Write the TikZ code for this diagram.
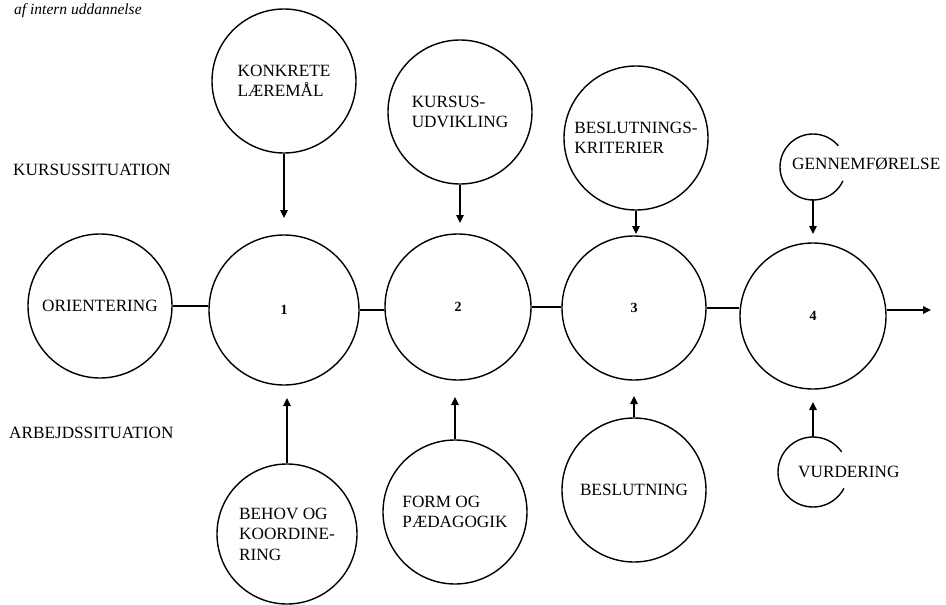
\documentclass[tikz,border=0pt]{standalone}
\usepackage{fontspec}
\setmainfont{Liberation Serif}
\usetikzlibrary{arrows.meta}
\begin{document}
\begin{tikzpicture}[x=1pt,y=-1pt,
  bub/.style={circle,draw,line width=1.4pt,inner sep=0pt,align=left,
    font=\fontsize{17.2}{20.5}\selectfont},
  lbl/.style={font=\fontsize{17.2}{20.5}\selectfont,inner sep=0pt},
  num/.style={font=\fontsize{14}{16}\selectfont\bfseries},
  link/.style={line width=1.4pt},
  arr/.style={line width=1.2pt,-{Triangle[length=8pt,width=7.5pt]}},
  halo/.style={line width=1.4pt}]
\useasboundingbox (0,0) rectangle (946,605);
% heading
\node[anchor=base west,inner sep=0pt,font=\fontsize{15.5}{17}\selectfont\itshape] (head) at (14,14) {af intern uddannelse};
% row labels
\node[lbl,anchor=west] (ks) at (13,170) {KURSUSSITUATION};
\node[lbl,anchor=west] (as) at (9,433) {ARBEJDSSITUATION};
% main row
\node[bub,minimum size=144pt] (o) at (100,306) {ORIENTERING};
\node[bub,minimum size=150pt,num] (c1) at (284,310) {1};
\node[bub,minimum size=146pt,num] (c2) at (458,307) {2};
\node[bub,minimum size=144pt,num] (c3) at (634,308) {3};
\node[bub,minimum size=146pt,num] (c4) at (813,316) {4};
% top row
\node[bub,minimum size=144pt] (k1) at (284,81) {KONKRETE\\LÆREMÅL};
\node[bub,minimum size=144pt] (k2) at (460,112) {KURSUS-\\UDVIKLING};
\node[bub,minimum size=144pt] (k3) at (636,138) {BESLUTNINGS-\\KRITERIER};
% bottom row
\node[bub,minimum size=140pt] (b1) at (287,534) {BEHOV OG\\KOORDINE-\\RING};
\node[bub,minimum size=144pt] (b2) at (455,512) {FORM OG\\PÆDAGOGIK};
\node[bub,minimum size=144pt] (b3) at (634,490) {BESLUTNING};
% open circles
\coordinate (gc) at (813,167);
\coordinate (vc) at (813,472);
\draw[halo] (gc) ++(-40:33) arc[start angle=-40,end angle=-335,radius=33];
\draw[halo] (vc) ++(-35:35) arc[start angle=-35,end angle=-332,radius=35];
\node[lbl,anchor=west] (g) at (792,164) {GENNEMFØRELSE};
\node[lbl,anchor=west] (v) at (798,472) {VURDERING};
\coordinate (gb) at (813,200);
\coordinate (vt) at (813,437);
% links
\draw[link] (o.east) -- (o.east -| c1.west);
\draw[link] (c1.east) -- (c1.east -| c2.west);
\draw[link] (c2.east) -- (c2.east -| c3.west);
\draw[link] (c3.east) -- (c3.east -| c4.west);
\coordinate (out) at (931,310);
\draw[arr] (c4.east |- out) -- (out);
% arrow tips
\coordinate (t1) at (284,218);
\coordinate (t2) at (460,223);
\coordinate (t3) at (636,234);
\coordinate (t4) at (813,234);
\coordinate (u1) at (287,398);
\coordinate (u2) at (455,397);
\coordinate (u3) at (634,396);
\coordinate (u4) at (813,402);
\draw[arr] (k1.south) -- (t1);
\draw[arr] (k2.south) -- (t2);
\draw[arr] (k3.south) -- (t3);
\draw[arr] (gb) -- (t4);
\draw[arr] (b1.north) -- (u1);
\draw[arr] (b2.north) -- (u2);
\draw[arr] (b3.north) -- (u3);
\draw[arr] (vt) -- (u4);
\end{tikzpicture}
\end{document}
